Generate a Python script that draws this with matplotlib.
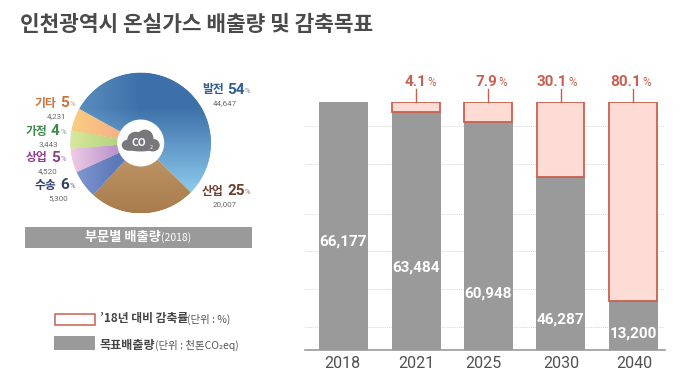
import numpy as np
import matplotlib
matplotlib.use("Agg")
import matplotlib.pyplot as plt
from matplotlib.colors import to_rgb
from matplotlib.patches import Rectangle, Circle, Ellipse

plt.rcParams["font.family"] = ["Noto Sans CJK KR", "DejaVu Sans"]
NUM = "Roboto"

W, H = 680, 377

# ---------- data ----------
years = ["2018", "2021", "2025", "2030", "2040"]
target = [66177, 63484, 60948, 46287, 13200]
reduction = [None, "4.1", "7.9", "30.1", "80.1"]
base_year = 66177
grid_vals = [6100, 16300, 26400, 36300, 49600, 59800]

sectors = ["발전", "산업", "수송", "상업", "가정", "기타"]
sector_vals = [44647, 20007, 5300, 4520, 3443, 4231]
sector_pct = [54, 25, 6, 5, 4, 5]
sector_txt = ["44,647", "20,007", "5,300", "4,520", "3,443", "4,231"]

GRAY = "#9a9a9a"
RED = "#c9604f"
PINK = "#fcdcd4"

fig = plt.figure(figsize=(W / 100, H / 100), dpi=100)
bg = fig.add_axes([0, 0, 1, 1])
bg.set_xlim(0, W); bg.set_ylim(H, 0); bg.axis("off")

bg.text(20, 24.5, "인천광역시 온실가스 배출량 및 감축목표", fontsize=15.4, fontweight="bold",
        color="#4a4a4a", va="center", ha="left")

# ---------- bars (axes spans px 305..665 x, baseline y=350, 248px = 66177) ----------
left, right, base, top = 305, 665, 350, 102
ax = fig.add_axes([left / W, 1 - base / H, (right - left) / W, (base - top) / H])
ax.patch.set_alpha(0)
xpos = [343.5, 416, 488, 560.5, 633]
ax.set_xlim(left, right); ax.set_ylim(0, base_year)
for g in grid_vals:
    ax.axhline(g, color="#d8d8d8", lw=0.7, ls=(0, (1, 1)), zorder=0)
ax.bar(xpos, target, width=49, color=GRAY, zorder=2)
pct_dx = [0, 10, 9, 7, 8]     # number right edge relative to the stem
for x, t, r, dx in zip(xpos, target, reduction, pct_dx):
    if r is None:
        continue
    ax.bar(x, base_year - t, bottom=t, width=47.5, facecolor=PINK, edgecolor=RED, lw=1.3, zorder=3)
    ax.plot([x, x], [base_year, base_year * 1.052], color=RED, lw=1, clip_on=False, zorder=3)
    ax.text(x + dx, base_year * 1.0806, r, color=RED, fontsize=11, fontweight="bold", family=NUM,
            ha="right", va="center", clip_on=False)
    ax.text(x + dx + 1, base_year * 1.0790, "%", color=RED, fontsize=8.5, family=NUM,
            ha="left", va="center", clip_on=False)
ax.set_xticks([342, 416, 483, 561, 634], years, family=NUM)
ax.tick_params(axis="x", length=0, pad=4, labelsize=11.5, labelcolor="#505050")
ax.set_yticks([])
for s in ("top", "left", "right"):
    ax.spines[s].set_visible(False)
ax.spines["bottom"].set_color("#999999"); ax.spines["bottom"].set_linewidth(1.2)
label_y = [28900, 21880, 14940, 8005, 4270]
for x, t, y in zip(xpos, target, label_y):
    ax.text(x, y, f"{t:,}", color="white", fontsize=11, fontweight="bold", family=NUM,
            ha="center", va="center", zorder=4)

# ---------- pie ----------
cx, cy, R = 140.7, 143, 70.5
M = R + 4    # margin so the axes box does not shave the circle
pie = fig.add_axes([(cx - M) / W, 1 - (cy + M) / H, 2 * M / W, 2 * M / H])
pie.patch.set_alpha(0)
wedges, _ = pie.pie(sector_vals, startangle=151, counterclock=False, radius=1,
                    wedgeprops=dict(edgecolor="#f4f4ea", linewidth=0.6))
yy, xx = np.mgrid[-1:1:200j, -1:1:200j]

def rgb(c):
    return np.array(to_rgb(c))

def mix(c0, c1, t):
    t = np.clip(t, 0, 1)[..., None]
    return rgb(c0) * (1 - t) + rgb(c1) * t

lift = 0.4 * np.clip(-xx, 0, 1)[..., None]
imgs = [
    # 발전: light at the bottom right, dark up top, lifted a bit towards the left
    mix("#90cff0", "#3d70a8", (yy + 0.75) / 1.25) * (1 - lift) + rgb("#8cc4e8") * lift,
    mix("#a97c4d", "#c29b6c", (yy + 1) / 1.0),
    mix("#8299d4", "#5d78b8", (xx + 0.95) / 0.6),
    mix("#f0cce6", "#bb95cd", (xx + 1) / 0.65),
    mix("#d8e89e", "#b5d47c", (xx + 1) / 0.65),
    mix("#f9cd80", "#f5b088", (xx + 0.95) / 0.65),
]
for w, img in zip(wedges, imgs):
    im = pie.imshow(img, extent=(-1, 1, -1, 1), origin="lower", zorder=2, aspect="auto")
    im.set_clip_path(w)
pie.set_xlim(-M / R, M / R); pie.set_ylim(-M / R, M / R); pie.axis("off")
pie.add_patch(Circle((0, 0), 1.012, fc="none", ec="white", lw=1.2, zorder=3))   # smooth the clipped rim
pie.add_patch(Circle((0, 0), 23.5 / R, fc="white", ec="none", zorder=3))
# cloud icon
for ex, ey, rx, ry in [(-0.17, -0.03, 0.10, 0.08), (-0.07, 0.05, 0.12, 0.11), (0.06, 0.07, 0.12, 0.12),
                       (0.17, -0.03, 0.10, 0.09), (0.0, -0.05, 0.24, 0.07)]:
    pie.add_patch(Ellipse((ex, ey), 2 * rx, 2 * ry, fc="#77777c", ec="none", zorder=4))
pie.text(-0.02, -0.005, "CO", color="white", fontsize=7.5, fontweight="bold", ha="center", va="center", zorder=5)
pie.text(0.15, -0.07, "2", color="white", fontsize=4, ha="center", va="center", zorder=5)

num_x = [227, 227, 60, 51, 51, 60]
name_y = [90, 191, 185, 158, 131, 103]
val_x = [225, 225, 58, 48, 48, 57]
lab_col = ["#2f5f8f", "#6a3f2e", "#2e3f6a", "#8f3f8a", "#3f8a4a", "#cf6f3a"]
for s, p, t, nx, ny, vx, c in zip(sectors, sector_pct, sector_txt, num_x, name_y, val_x, lab_col):
    bg.text(nx - 3.5, ny, s, fontsize=8.5, fontweight="bold", color=c, ha="right", va="center")
    bg.text(nx, ny, str(p), fontsize=11, fontweight="bold", family=NUM, color=c, ha="left", va="center")
    bg.text(nx + 8.8 * len(str(p)) + 0.5, ny + 1, "%", fontsize=5.5, family=NUM, color=c, alpha=0.75,
            ha="left", va="center")
    bg.text(vx, ny + 13, t, fontsize=5.8, family=NUM, color="#6a6a6a", ha="center", va="center")

# ---------- sector title band + legend ----------
bg.add_patch(Rectangle((25, 227), 227, 21, fc=GRAY, ec="none"))
bg.text(161, 237.5, "부문별 배출량", fontsize=9.5, fontweight="bold", color="white", ha="right", va="center")
bg.text(161, 238, "(2018)", fontsize=7.5, color="white", ha="left", va="center")

bg.add_patch(Rectangle((55, 313.5), 39.5, 11, fc="white", ec=RED, lw=1.1))
bg.add_patch(Rectangle((54, 336), 41, 14, fc=GRAY, ec="none"))
bg.text(100, 318.5, "’18년 대비 감축률", fontsize=8.5, fontweight="bold", color="#444444", ha="left", va="center")
bg.text(187, 319, "(단위 : %)", fontsize=7.5, color="#555555", ha="left", va="center")
bg.text(100, 345, "목표배출량", fontsize=8.7, fontweight="bold", color="#444444", ha="left", va="center")
bg.text(155, 345, "(단위 : 천톤CO₂eq)", fontsize=7.5, color="#555555", ha="left", va="center")

fig.savefig("out.png", dpi=100)
